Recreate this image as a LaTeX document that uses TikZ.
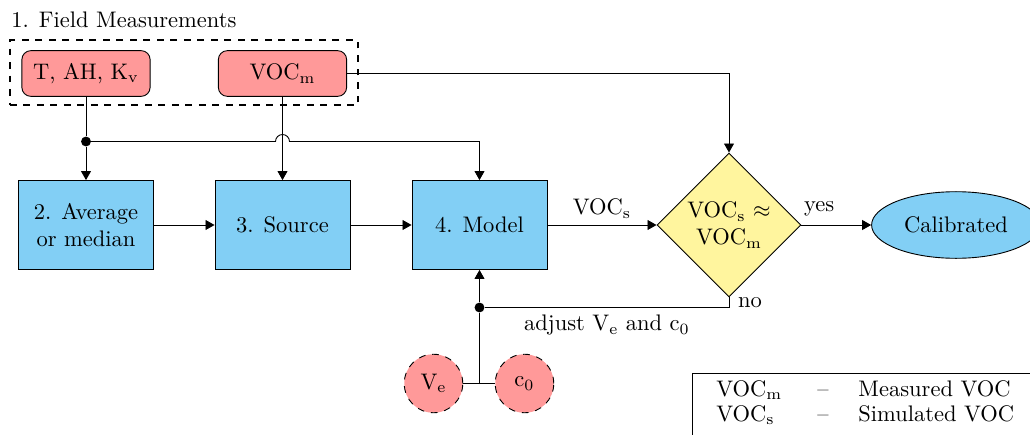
\documentclass[tikz,border=0pt]{standalone}
\usetikzlibrary{shapes.geometric,arrows.meta}
\definecolor{redfill}{RGB}{255,153,153}
\definecolor{bluefill}{RGB}{130,207,245}
\definecolor{yellowfill}{RGB}{255,245,158}
\begin{document}
\begin{tikzpicture}[x=0.4444pt,y=-0.4444pt,
  box/.style={draw, fill=bluefill, minimum width=60pt, minimum height=39.5pt, align=center, inner sep=2pt},
  meas/.style={draw, fill=redfill, rounded corners=4pt, minimum width=57pt, minimum height=20.3pt, inner sep=2pt},
  param/.style={draw, dashed, circle, fill=redfill, minimum size=26pt, inner sep=0pt},
  decision/.style={draw, diamond, aspect=1, fill=yellowfill, minimum width=64pt, minimum height=64pt, inner sep=0pt, align=center},
  term/.style={draw, ellipse, fill=bluefill, minimum width=75pt, minimum height=29.6pt},
  arr/.style={-{Triangle[length=4pt,width=4.4pt]}},
  jdot/.style={circle, fill, inner sep=0pt, minimum size=4.4pt},
  group/.style={draw, dashed, thick, minimum width=154.7pt, minimum height=28.9pt, inner sep=0pt},
  legendbox/.style={draw, minimum width=180pt, minimum height=45pt, inner sep=0pt, anchor=north west}]
\clip (0,0) rectangle (1030,435);
% field measurements group
\node[anchor=base west, inner sep=0pt] (title) at (11,27.5) {1. Field Measurements};
\node[group] (fm) at (184,72.75) {};
\node[meas] (tah) at (86,73.5) {T, AH, K$_\mathrm{v}$};
\node[meas] (vocm) at (282.5,73.5) {VOC$_\mathrm{m}$};
% process boxes
\node[box] (avg) at (86,225) {2. Average\\or median};
\node[box] (src) at (282.5,225) {3. Source};
\node[box] (mod) at (479.5,225) {4. Model};
\node[decision] (dia) at (729,225) {VOC$_\mathrm{s}$ $\approx$\\VOC$_\mathrm{m}$};
\node[term] (cal) at (956,225) {Calibrated};
% parameters
\node[param] (ve) at (433.5,383.5) {V$_\mathrm{e}$};
\node[param] (c0) at (524.5,383.5) {c$_0$};
% junctions
\node[jdot] (j1) at (86,141.5) {};
\node[jdot] (j2) at (479.5,307.5) {};
\coordinate (j3) at (479.5,384);
% connectors
\draw (tah) -- (j1);
\draw[arr] (j1) -- (avg);
\draw[arr] (j1.center) -- ([xshift=-3.1pt]vocm.south |- j1.center)
  arc[start angle=180,end angle=0,radius=3.1pt] -- (j1.center -| mod.north) -- (mod.north);
\draw[arr] (vocm) -- (src);
\draw[arr] (vocm.east) -- (vocm.east -| dia.north) -- (dia.north);
\draw[arr] (avg) -- (src);
\draw[arr] (src) -- (mod);
\draw[arr] (mod) -- node[midway, anchor=base, yshift=4.5pt, inner sep=0pt] {VOC$_\mathrm{s}$} (dia);
\draw[arr] (dia) -- node[pos=0, anchor=base west, xshift=1pt, yshift=6pt, inner sep=0pt] {yes} (cal);
\draw (dia.south) -- node[pos=0, anchor=base west, xshift=3.9pt, yshift=-4.3pt, inner sep=0pt] {no} (dia.south |- j2)
  -- node[midway, anchor=base, yshift=-10.4pt, inner sep=0pt] {adjust V$_\mathrm{e}$ and c$_0$} (j2);
\draw[arr] (j2) -- (mod.south);
\draw (ve) -- (c0);
\draw (j3) -- (j2);
% legend
\node[legendbox] (leg) at (692,373) {};
\node[anchor=base west, inner sep=0pt] (l1a) at (716,396) {VOC$_\mathrm{m}$};
\node[anchor=base, inner sep=0pt] (l1b) at (823,396) {--};
\node[anchor=base west, inner sep=0pt] (l1c) at (858,396) {Measured VOC};
\node[anchor=base west, inner sep=0pt] (l2a) at (716,421.5) {VOC$_\mathrm{s}$};
\node[anchor=base, inner sep=0pt] (l2b) at (823,421.5) {--};
\node[anchor=base west, inner sep=0pt] (l2c) at (858,421.5) {Simulated VOC};
\end{tikzpicture}
\end{document}
